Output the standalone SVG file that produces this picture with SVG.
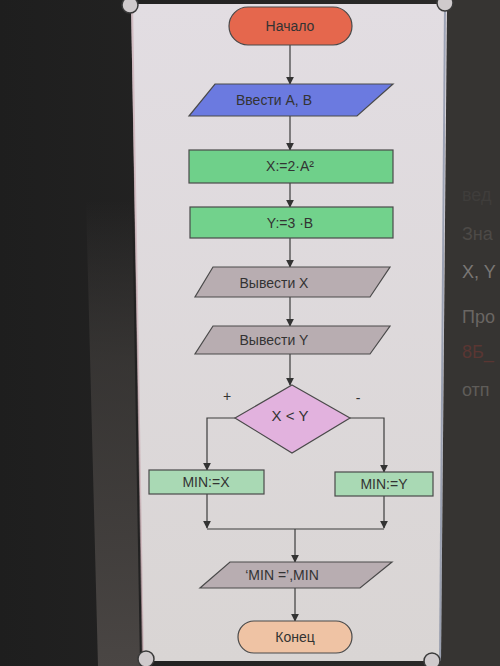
<svg xmlns="http://www.w3.org/2000/svg" width="500" height="666" viewBox="0 0 500 666">
<defs>
<marker id="ah" viewBox="0 0 10 10" refX="9" refY="5" markerWidth="8" markerHeight="8" orient="auto" markerUnits="userSpaceOnUse">
<path d="M0,0 L10,5 L0,10 z" fill="#333"/>
</marker>
<linearGradient id="bgl" x1="0" y1="0" x2="1" y2="0">
<stop offset="0" stop-color="#1e1e1e"/>
<stop offset="1" stop-color="#2c2b2a"/>
</linearGradient>
<linearGradient id="band" x1="0" y1="0" x2="0" y2="1">
<stop offset="0" stop-color="#444140" stop-opacity="0"/>
<stop offset="0.35" stop-color="#403d3b" stop-opacity="0.7"/>
<stop offset="1" stop-color="#4a4644" stop-opacity="1"/>
</linearGradient>
<linearGradient id="panel" x1="0" y1="0" x2="0" y2="1">
<stop offset="0" stop-color="#e2dde2"/>
<stop offset="1" stop-color="#d9d5d4"/>
</linearGradient>
<style>
.c{fill:none;stroke:#3c3c3c;stroke-width:1.2}
.a{marker-end:url(#ah)}
.t{font-family:"Liberation Sans","Open Sans",sans-serif;font-size:14px;fill:#333;text-anchor:middle;dominant-baseline:central}
.s{stroke:#4a4a4a;stroke-width:1.2}
.bg{font-family:"Liberation Sans",sans-serif;font-size:18px}
.h{fill:#cfcacc;stroke:#3a3a3a;stroke-width:1.5}
</style>
</defs>
<rect width="500" height="666" fill="url(#bgl)"/>
<polygon points="86,200 132,200 140,666 98,666" fill="url(#band)"/>
<rect x="440" y="0" width="60" height="666" fill="#363432"/>
<g class="bg">
<text x="462" y="201" fill="#3f3d3b">вед</text>
<text x="462" y="240" fill="#4d4a47">Зна</text>
<text x="462" y="278" fill="#7a7775">X, Y</text>
<text x="462" y="323" fill="#6a6663">Про</text>
<text x="462" y="358" fill="#5a3632">8Б_</text>
<text x="462" y="396" fill="#5f5c59">отп</text>
</g>
<polygon points="131,4 447,4 441,661 143,661" fill="url(#panel)"/>
<line x1="132" y1="4" x2="143" y2="661" stroke="#c9a9b0" stroke-width="2" opacity="0.6"/>
<line x1="445" y1="4" x2="440" y2="661" stroke="#5a6a8a" stroke-width="2" opacity="0.5"/>
<circle class="h" cx="130" cy="5" r="8"/>
<circle class="h" cx="445" cy="3" r="8"/>
<circle class="h" cx="146" cy="659" r="8"/>
<circle class="h" cx="432" cy="661" r="8"/>
<g id="connectors">
<line class="c a" x1="290" y1="45" x2="290" y2="84"/>
<line class="c a" x1="290" y1="116" x2="290" y2="150"/>
<line class="c a" x1="290" y1="183" x2="290" y2="207"/>
<line class="c a" x1="290" y1="238" x2="290" y2="267"/>
<line class="c a" x1="290" y1="297" x2="290" y2="326"/>
<line class="c a" x1="290" y1="354" x2="290" y2="385"/>
<polyline class="c a" points="235,418 207,418 207,470"/>
<polyline class="c a" points="350,418 384,418 384,472"/>
<line class="c a" x1="207" y1="494" x2="207" y2="528"/>
<line class="c a" x1="384" y1="496" x2="384" y2="528"/>
<line class="c" x1="207" y1="529" x2="384" y2="529"/>
<line class="c a" x1="295" y1="529" x2="295" y2="562"/>
<line class="c a" x1="295" y1="588" x2="295" y2="621"/>
</g>
<g id="start">
<rect x="229" y="7" width="123" height="38" rx="19" fill="#e5674d" class="s"/>
<text class="t" x="290" y="26">Начало</text>
</g>
<g id="input">
<polygon points="215,84 393,84 357,116 189,116" fill="#6b7ae0" class="s"/>
<text class="t" x="274" y="100">Ввести  A, B</text>
</g>
<g id="calcX">
<rect x="189" y="150" width="204" height="33" fill="#6fd08a" class="s"/>
<text class="t" x="290" y="166">X:=2·A²</text>
</g>
<g id="calcY">
<rect x="190" y="207" width="203" height="31" fill="#72d28c" class="s"/>
<text class="t" x="290" y="223">Y:=3 ·B</text>
</g>
<g id="outX">
<polygon points="213,267 390,267 370,297 195,297" fill="#b8adb1" class="s"/>
<text class="t" x="274" y="283">Вывести  X</text>
</g>
<g id="outY">
<polygon points="213,326 390,326 370,354 195,354" fill="#b8adb1" class="s"/>
<text class="t" x="274" y="340">Вывести  Y</text>
</g>
<g id="decision">
<polygon points="292,385 350,418 292,453 235,418" fill="#e2b2de" class="s"/>
<text class="t" x="290" y="415" style="font-size:15px">X &lt; Y</text>
<text class="t" x="227" y="396">+</text>
<text class="t" x="358" y="398">-</text>
</g>
<g id="minX">
<rect x="149" y="470" width="115" height="24" fill="#a9d9b4" class="s"/>
<text class="t" x="206" y="482">MIN:=X</text>
</g>
<g id="minY">
<rect x="335" y="472" width="98" height="24" fill="#a9d9b4" class="s"/>
<text class="t" x="384" y="484">MIN:=Y</text>
</g>
<g id="outMin">
<polygon points="230,562 392,562 360,588 200,588" fill="#b8adb1" class="s"/>
<text class="t" x="282" y="575">‘MIN =’,MIN</text>
</g>
<g id="end">
<rect x="238" y="621" width="114" height="32" rx="16" fill="#efc3a4" class="s"/>
<text class="t" x="295" y="637">Конец</text>
</g>
</svg>
